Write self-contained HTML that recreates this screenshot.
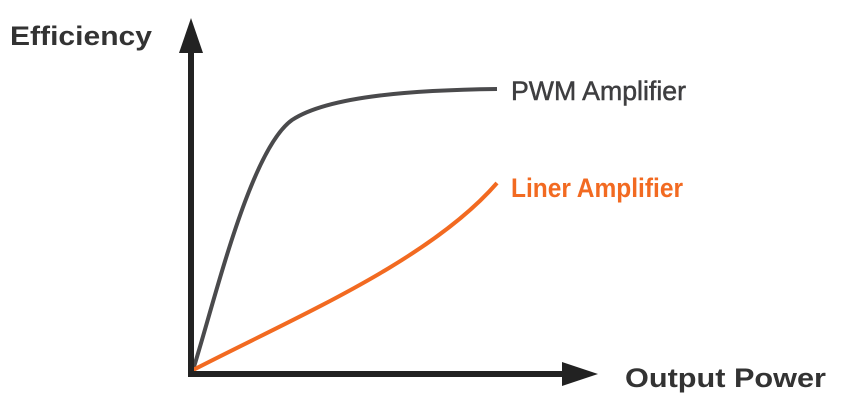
<!DOCTYPE html>
<html><head><style>html,body{margin:0;padding:0;background:#fff;}svg{display:block}</style></head>
<body>
<svg width="841" height="413" viewBox="0 0 841 413" xmlns="http://www.w3.org/2000/svg">
<rect width="841" height="413" fill="#fff"/>
<path d="M193 370 C 215 300, 250 150, 292 120 C 330 95, 420 90, 497 89" fill="none" stroke="#4a4a4c" stroke-width="4"/>
<path d="M193 370 C 300 315, 430 260, 497 183" fill="none" stroke="#f26a21" stroke-width="4"/>
<line x1="191" y1="376" x2="191" y2="50" stroke="#222" stroke-width="6"/>
<polygon points="191,18 179,53 203,53" fill="#222"/>
<line x1="188" y1="374" x2="566" y2="374" stroke="#222" stroke-width="6"/>
<polygon points="598,374 562,362 562,386" fill="#222"/>
<g font-family="Liberation Sans, sans-serif">
<text x="10" y="45" font-size="27" font-weight="bold" fill="#333" textLength="142" lengthAdjust="spacingAndGlyphs">Efficiency</text>
<text x="511" y="100" font-size="27" fill="#3e3e40" stroke="#3e3e40" stroke-width="0.5" textLength="175" lengthAdjust="spacingAndGlyphs">PWM Amplifier</text>
<text x="511" y="197" font-size="27" font-weight="bold" fill="#f26a21" textLength="172" lengthAdjust="spacingAndGlyphs">Liner Amplifier</text>
<text x="625" y="387" font-size="27" font-weight="bold" fill="#333" textLength="201" lengthAdjust="spacingAndGlyphs">Output Power</text>
</g>
</svg>
</body></html>
